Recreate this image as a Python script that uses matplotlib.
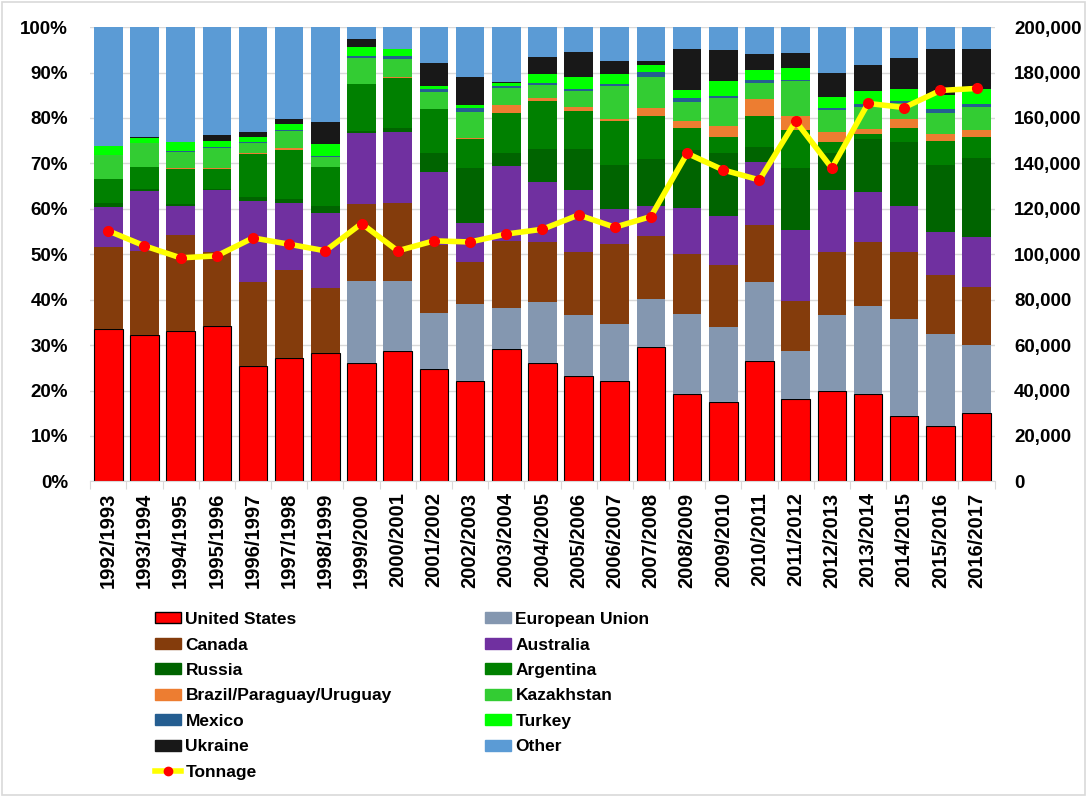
import numpy as np
import matplotlib
matplotlib.use("Agg")
import matplotlib.pyplot as plt
from matplotlib.patches import Patch, Rectangle
from matplotlib.lines import Line2D
from matplotlib.ticker import FuncFormatter, PercentFormatter

plt.rcParams["font.family"] = ["Liberation Sans", "DejaVu Sans"]
plt.rcParams["font.weight"] = "bold"

# %% data (share of exports, %)
years = [
    "1992/1993", "1993/1994", "1994/1995", "1995/1996", "1996/1997",
    "1997/1998", "1998/1999", "1999/2000", "2000/2001", "2001/2002",
    "2002/2003", "2003/2004", "2004/2005", "2005/2006", "2006/2007",
    "2007/2008", "2008/2009", "2009/2010", "2010/2011", "2011/2012",
    "2012/2013", "2013/2014", "2014/2015", "2015/2016", "2016/2017",
]
united_states = [33.5, 32.2, 33.0, 34.1, 25.5, 27.2, 28.2, 26.1, 28.6, 24.8, 22.0, 29.1, 26.1,
                 23.3, 22.2, 29.5, 19.2, 17.5, 26.5, 18.1, 20.0, 19.3, 14.3, 12.3, 15.0]
european_union = [0, 0, 0, 0, 0, 0, 0, 18.0, 15.5, 12.2, 17.1, 9.1, 13.3,
                  13.3, 12.4, 10.7, 17.7, 16.4, 17.4, 10.6, 16.6, 19.4, 21.5, 20.1, 15.1]
canada = [18.0, 18.5, 21.2, 16.3, 18.3, 19.3, 14.4, 17.0, 17.1, 15.0, 9.1, 14.7, 13.4,
          13.8, 17.7, 13.9, 13.2, 13.7, 12.5, 10.9, 13.8, 14.0, 14.7, 13.0, 12.6]
australia = [8.9, 13.2, 6.4, 13.7, 18.0, 14.7, 16.4, 15.6, 15.8, 16.1, 8.7, 16.5, 13.1,
             13.7, 7.7, 6.5, 10.1, 10.8, 14.0, 15.7, 13.7, 11.1, 10.1, 9.4, 11.0]
russia = [0.8, 0.4, 0.4, 0.2, 0.8, 0.9, 1.6, 0.4, 0.7, 4.1, 12.1, 2.9, 7.2,
          9.0, 9.7, 10.4, 12.8, 13.8, 3.1, 13.7, 8.1, 11.5, 14.1, 14.9, 17.5]
argentina = [5.3, 4.9, 7.7, 4.4, 9.4, 10.9, 8.5, 10.4, 11.1, 9.7, 6.4, 8.8, 10.7,
             8.4, 9.7, 9.5, 4.8, 3.6, 7.0, 8.3, 2.5, 1.2, 3.1, 5.2, 4.6]
brazil_par_uru = [0, 0, 0.2, 0.2, 0.3, 0.4, 0, 0, 0.2, 0, 0.2, 1.7, 0.6,
                  0.9, 0.3, 1.7, 1.6, 2.5, 3.6, 3.2, 2.3, 1.0, 1.9, 1.5, 1.6]
kazakhstan = [5.3, 5.2, 3.6, 4.4, 2.2, 3.7, 2.3, 5.7, 3.9, 3.9, 5.8, 3.7, 2.8,
              3.5, 7.4, 6.8, 4.2, 6.1, 3.6, 7.6, 4.7, 4.9, 3.6, 4.6, 5.0]
mexico = [0.1, 0.1, 0.2, 0.4, 0.1, 0.2, 0.3, 0.5, 0.7, 0.5, 0.8, 0.6, 0.5,
          0.5, 0.3, 1.1, 0.9, 0.5, 0.6, 0.3, 0.5, 0.7, 0.5, 0.9, 0.6]
turkey = [1.9, 1.1, 1.9, 1.2, 1.1, 1.3, 2.6, 2.0, 1.6, 0.7, 0.6, 0.6, 1.9,
          2.6, 2.2, 1.5, 1.6, 3.3, 2.2, 2.5, 2.4, 2.8, 2.5, 3.1, 3.3]
ukraine = [0.1, 0.3, 0.1, 1.3, 1.2, 1.1, 4.8, 1.6, 0, 5.2, 6.3, 0.2, 3.9,
           5.6, 3.0, 1.0, 9.1, 6.7, 3.5, 3.4, 5.3, 5.8, 6.8, 10.2, 8.9]
tonnage = [110300, 103700, 98400, 99300, 107200, 104400, 101500, 113500, 101500, 105900,
           105400, 108900, 111000, 117300, 111900, 116600, 144400, 137100, 132700, 158600,
           137900, 166400, 164600, 172100, 173000]

series = {
    "United States": united_states,
    "European Union": european_union,
    "Canada": canada,
    "Australia": australia,
    "Russia": russia,
    "Argentina": argentina,
    "Brazil/Paraguay/Uruguay": brazil_par_uru,
    "Kazakhstan": kazakhstan,
    "Mexico": mexico,
    "Turkey": turkey,
    "Ukraine": ukraine,
}
known = np.sum([np.array(v) for v in series.values()], axis=0)
series["Other"] = list(100 - known)

colors = {
    "United States": "#ff0000",
    "European Union": "#8497b0",
    "Canada": "#843c0c",
    "Australia": "#7030a0",
    "Russia": "#006400",
    "Argentina": "#008000",
    "Brazil/Paraguay/Uruguay": "#ed7d31",
    "Kazakhstan": "#33cc33",
    "Mexico": "#255e91",
    "Turkey": "#00ff00",
    "Ukraine": "#181818",
    "Other": "#5b9bd5",
}

# %% plot
fig = plt.figure(figsize=(10.87, 7.97), dpi=100)
ax = fig.add_axes([0.083, 0.396, 0.832, 0.570])
x = np.arange(len(years))
bottom = np.zeros(len(years))
for name, vals in series.items():
    vals = np.array(vals, dtype=float)
    ax.bar(
        x, vals, bottom=bottom, width=0.79, color=colors[name],
        edgecolor="black" if name == "United States" else "none",
        linewidth=0.8, zorder=2,
    )
    bottom += vals

ax.set_xlim(-0.5, len(years) - 0.5)
ax.set_ylim(0, 100)
ax.yaxis.set_major_locator(plt.MultipleLocator(10))
ax.yaxis.set_major_formatter(PercentFormatter(decimals=0))
ax.grid(axis="y", color="#d9d9d9", linewidth=1, zorder=0)
ax.set_axisbelow(True)
ax.spines[["top", "left", "right"]].set_visible(False)
ax.spines["bottom"].set_color("#d9d9d9")
ax.set_xticks(np.arange(len(years) + 1) - 0.5)
ax.set_xticklabels([])
ax.tick_params(axis="x", which="major", length=6, color="#d9d9d9")
ax.set_xticks(x, minor=True)
ax.set_xticklabels(years, minor=True, rotation=90, fontsize=14.5, fontweight="bold")
ax.tick_params(axis="x", which="minor", length=0, pad=8)
ax.tick_params(axis="y", length=0, labelsize=13.5, pad=16)

ax2 = ax.twinx()
ax2.plot(x, tonnage, color="#ffff00", linewidth=4, marker="o", markersize=7,
         markerfacecolor="#ff0000", markeredgecolor="#ff0000", zorder=3)
ax2.set_ylim(0, 200000)
ax2.yaxis.set_major_locator(plt.MultipleLocator(20000))
ax2.yaxis.set_major_formatter(FuncFormatter(lambda v, p: f"{v:,.0f}"))
ax2.tick_params(axis="y", length=0, labelsize=13.5, pad=14)
for s in ["top", "left", "right", "bottom"]:
    ax2.spines[s].set_visible(False)

# legend: two separate columns
left_col = ["United States", "Canada", "Russia", "Brazil/Paraguay/Uruguay", "Mexico", "Ukraine"]
right_col = ["European Union", "Australia", "Argentina", "Kazakhstan", "Turkey", "Other"]
left_handles = [Patch(facecolor=colors[n], edgecolor="black" if n == "United States" else colors[n])
                for n in left_col]
left_handles.append(Line2D([], [], color="#ffff00", linewidth=4, marker="o", markersize=6,
                           markerfacecolor="#ff0000", markeredgecolor="#ff0000"))
right_handles = [Patch(facecolor=colors[n], edgecolor=colors[n]) for n in right_col]
leg_kw = dict(
    loc="upper left", frameon=False, prop={"weight": "bold", "size": 12.5},
    handlelength=1.5, handleheight=0.6, handletextpad=0.25,
    labelspacing=0.6, borderpad=0, borderaxespad=0,
)
fig.legend(left_handles, left_col + ["Tonnage"], bbox_to_anchor=(0.1426, 0.232), **leg_kw)
fig.legend(right_handles, right_col, bbox_to_anchor=(0.4462, 0.232), **leg_kw)

fig.add_artist(Rectangle((0.002, 0.002), 0.996, 0.996, transform=fig.transFigure,
                         fill=False, edgecolor="#d9d9d9", linewidth=1.2))

fig.savefig("out.png", dpi=100)
